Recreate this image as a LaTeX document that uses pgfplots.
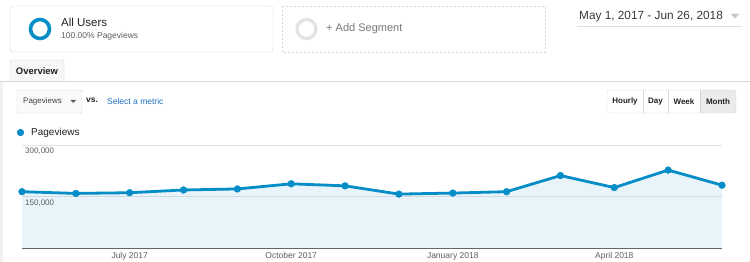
\documentclass[border=0pt]{standalone}
\usepackage{pgfplots}
\pgfplotsset{compat=1.18}
\usepackage{fontspec}
\setmainfont{Liberation Sans}
\definecolor{gablue}{HTML}{058DC7}
\definecolor{bordergray}{HTML}{D6D6D6}
\definecolor{txtdark}{HTML}{222222}
\definecolor{txtgray}{HTML}{5F5F5F}
\definecolor{linkblue}{HTML}{1F6FBF}
\definecolor{gridgray}{HTML}{E2E2E2}
\pgfplotstableread{
m v
0 164000
1 159000
2 161000
3 169000
4 172000
5 187000
6 181000
7 157000
8 160000
9 164000
10 211000
11 176000
12 227000
13 183000
}\pv
\begin{document}
\begin{tikzpicture}[x=1pt,y=1pt]
\path[use as bounding box, fill=white] (0,0) rectangle (750,262);
\begin{scope}[yshift=262pt, y=-1pt]
% left strip
\fill[gray!12] (0,82) rectangle (2.5,262);
% All users box
\draw[bordergray, rounded corners=3pt] (10,6) rectangle (273,52);
\draw[gablue, line width=3.6pt] (40,29) circle (9.5pt);
\node[anchor=base west, inner sep=0, text=txtdark, font=\fontsize{11.5}{13}\selectfont] at (61,27) {All Users};
\node[anchor=base west, inner sep=0, text=txtgray, font=\fontsize{8.5}{10}\selectfont] at (61,39) {100.00\% Pageviews};
% Add segment box
\draw[bordergray, dashed, dash pattern=on 2pt off 2pt] (282,6) rectangle (545,52);
\draw[gray!22, line width=3.2pt] (306.5,29) circle (9.5pt);
\node[anchor=base west, inner sep=0, text=txtgray!85, font=\fontsize{11}{13}\selectfont] at (326,32) {+ Add Segment};
% date
\node[anchor=base west, inner sep=0, text=txtdark!90, font=\fontsize{11.8}{14}\selectfont] at (579,20) {May 1, 2017 - Jun 26, 2018};
\fill[gray!45] (731,14) -- (739,14) -- (735,18.5) -- cycle;
\draw[gray!25, line width=0.8pt] (577,26) -- (742,26);
% Overview tab
\draw[gray!30, line width=0.8pt] (0,81) -- (750,81);
\draw[bordergray, fill=gray!6] (10,81) -- (10,62) [rounded corners=2pt] -- (10,60) -- (64,60) [sharp corners] -- (64,81);
\node[inner sep=0, text=txtdark, font=\bfseries\fontsize{9.5}{11}\selectfont] at (37,71.5) {Overview};
% Pageviews dropdown
\draw[bordergray, rounded corners=2pt, fill=gray!4] (17,90) rectangle (82,113);
\node[anchor=west, inner sep=0, text=txtdark!85, font=\fontsize{8}{10}\selectfont] at (23,101.5) {Pageviews};
\fill[txtgray] (70.5,100) -- (76,100) -- (73.25,103) -- cycle;
\node[anchor=west, inner sep=0, text=txtdark, font=\bfseries\fontsize{8.5}{10}\selectfont] at (86,100.5) {vs.};
\node[anchor=west, inner sep=0, text=linkblue, font=\fontsize{8.5}{10}\selectfont] at (107,101.5) {Select a metric};
% buttons
\fill[gray!16] (700,90) rectangle (736,113);
\draw[bordergray, rounded corners=2pt] (607,90) rectangle (736,113);
\draw[bordergray] (643,90) -- (643,113) (668,90) -- (668,113) (700,90) -- (700,113);
\node[inner sep=0, text=txtdark, font=\bfseries\fontsize{8}{10}\selectfont] at (625,101.5) {Hourly};
\node[inner sep=0, text=txtdark, font=\bfseries\fontsize{8}{10}\selectfont] at (655.5,101.5) {Day};
\node[inner sep=0, text=txtdark, font=\bfseries\fontsize{8}{10}\selectfont] at (684,101.5) {Week};
\node[inner sep=0, text=txtdark, font=\bfseries\fontsize{8}{10}\selectfont] at (718,101.5) {Month};
% legend
\fill[gablue] (20.5,132.5) circle (3.6pt);
\node[anchor=west, inner sep=0, text=txtdark, font=\fontsize{10}{12}\selectfont] at (31,132.5) {Pageviews};
\end{scope}
\begin{axis}[
  at={(22pt,14pt)}, anchor=south west,
  width=700pt, height=103pt, scale only axis,
  xmin=0, xmax=13, ymin=0, ymax=300000,
  axis x line*=bottom, axis y line*=left,
  y axis line style={draw=none},
  x axis line style={draw=gray!80!black, line width=0.9pt},
  major tick length=0pt,
  xtick={2,5,8,11},
  xticklabels={July 2017, October 2017, January 2018, April 2018},
  ytick={150000,300000},
  scaled y ticks=false,
  ymajorgrids, major grid style={gridgray, line width=0.6pt},
  /pgf/number format/.cd, fixed, 1000 sep={,}, assume math mode=true,
  /pgfplots/.cd,
  yticklabel style={anchor=north west, xshift=3pt, yshift=-3pt, inner sep=0pt, text=txtgray, font=\fontsize{8}{10}\selectfont},
  xticklabel style={inner sep=0pt, yshift=-4pt, text=txtgray, font=\fontsize{8.5}{10}\selectfont},
  clip=false,
]
\addplot[fill=gablue, fill opacity=0.09, draw=none] table[x=m, y=v] {\pv} \closedcycle;
\addplot[gablue, line width=2.8pt, line join=round, mark=*, mark size=3.4pt, mark options={draw=gablue, line width=0.4pt, fill=gablue}] table[x=m, y=v] {\pv};
\end{axis}
\end{tikzpicture}
\end{document}
